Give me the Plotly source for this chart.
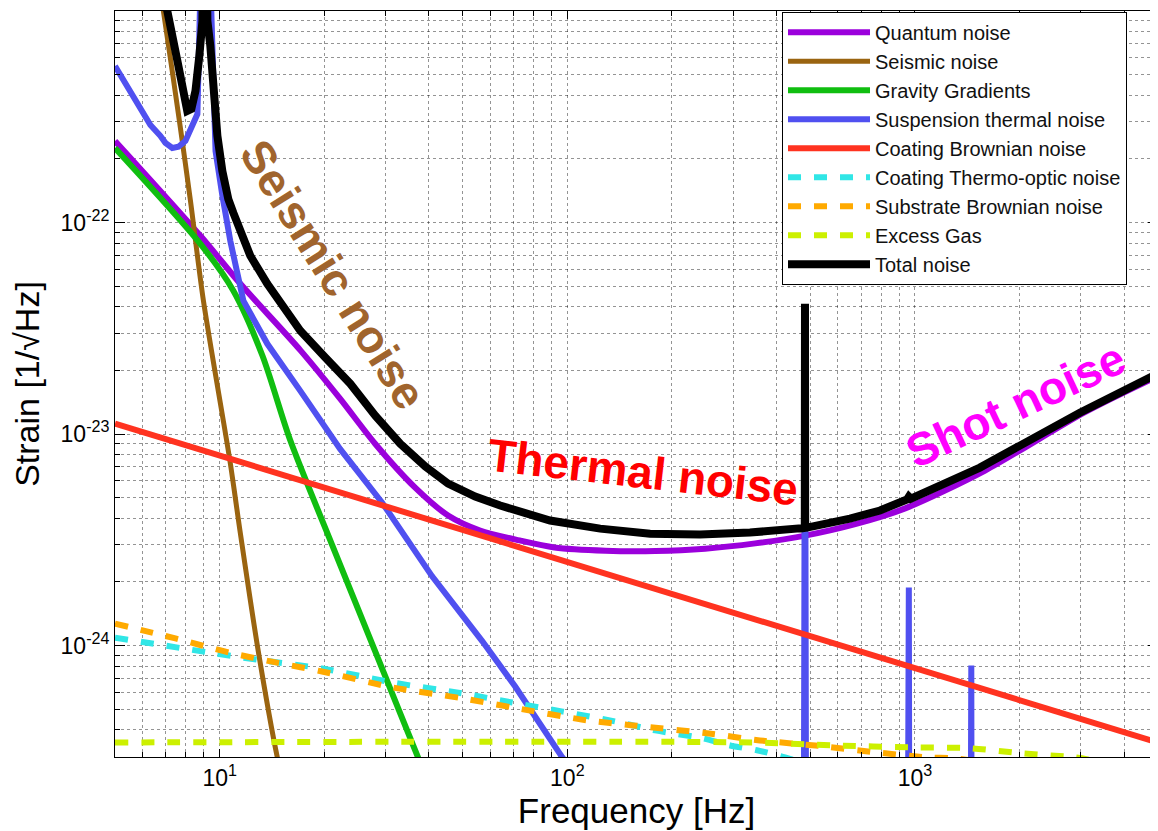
import plotly.graph_objects as go

FONT = "Liberation Sans, Arial, Helvetica, sans-serif"

# ---------------- data (frequency in Hz, strain in 1/sqrt(Hz)) ----------------
quantum_f = [5.0, 8.8, 11.47, 17.1, 22.2, 28.0, 36.5, 45.4, 56.1, 72.9, 91.8, 128.7, 179, 249, 347, 483, 673, 937, 1591, 3084, 5170]
quantum_h = [2.43e-22, 8.65e-23, 5.13e-23, 2.48e-23, 1.47e-23, 9.0e-24, 5.58e-24, 4.12e-24, 3.50e-24, 3.14e-24, 2.91e-24,
             2.81e-24, 2.80e-24, 2.87e-24, 3.04e-24, 3.31e-24, 3.75e-24, 4.45e-24, 6.72e-24, 1.27e-23, 1.93e-23]

seismic_f = [6.5, 6.89, 7.71, 8.24, 8.98, 10.7, 11.47, 12.9, 14.65, 15.5]
seismic_h = [1.8e-21, 1.0e-21, 2.80e-22, 1.27e-22, 4.27e-23, 7.5e-24, 3.39e-24, 9.5e-25, 2.96e-25, 2.0e-25]

gravity_f = [5.0, 8.8, 10.95, 13.27, 15.97, 21.1, 30.5, 37.2, 42.0]
gravity_h = [2.25e-22, 7.93e-23, 4.76e-23, 2.35e-23, 9.31e-24, 2.97e-24, 6.64e-25, 2.96e-25, 1.8e-25]

suspension_f = [5.0, 5.47, 5.92, 6.32, 6.75, 6.98, 7.31, 7.61, 7.97, 8.29, 8.63, 9.07, 9.73, 10.18, 10.73, 11.70,
                13.71, 17.06, 22.2, 29.3, 40.8, 56.9, 70.8, 96.6, 150, 300, 478, 482.6, 487, 950, 955, 960, 965,
                1440, 1447, 1452, 1457, 5000]
suspension_h = [5.50e-22, 4.28e-22, 3.37e-22, 2.89e-22, 2.57e-22, 2.38e-22, 2.25e-22, 2.28e-22, 2.43e-22, 2.77e-22,
                3.26e-22, 1.0e-20, 2.18e-22, 1.34e-22, 8.19e-23, 4.27e-23, 2.67e-23, 1.60e-23, 8.5e-24, 4.75e-24,
                2.13e-24, 1.05e-24, 6.4e-25, 2.97e-25, 1.2e-25, 4.0e-26, 2.5e-26, 4.0e-23, 2.5e-26, 1.5e-26,
                1.88e-24, 1.88e-24, 1.5e-26, 1.2e-26, 8.05e-25, 8.05e-25, 1.2e-26, 8.0e-27]

coating_brownian_f = [5.0, 5000.0]
coating_brownian_h = [1.12e-23, 3.48e-25]

thermo_optic_f = [5.0, 9.28, 13.3, 19.7, 31.4, 49.8, 69.4, 137, 179, 246, 294, 351, 423, 500]
thermo_optic_h = [1.09e-24, 9.28e-25, 8.50e-25, 7.79e-25, 6.69e-25, 5.94e-25, 5.38e-25, 4.38e-25, 3.97e-25, 3.64e-25,
                  3.37e-25, 3.20e-25, 2.96e-25, 2.7e-25]

substrate_f = [5.0, 7.46, 10.6, 14.5, 19.7, 31.4, 49.8, 69.4, 114, 155, 252, 358, 544, 767, 1082, 1286, 1600]
substrate_h = [1.27e-24, 1.08e-24, 9.28e-25, 8.32e-25, 7.54e-25, 6.34e-25, 5.63e-25, 5.10e-25, 4.43e-25, 4.19e-25,
               3.85e-25, 3.56e-25, 3.34e-25, 3.13e-25, 2.96e-25, 2.93e-25, 2.8e-25]

excess_gas_f = [5.0, 342, 581, 1013, 1439, 2044, 2884, 3300]
excess_gas_h = [3.48e-25, 3.48e-25, 3.37e-25, 3.30e-25, 3.27e-25, 3.09e-25, 2.96e-25, 2.85e-25]

total_f = [6.5, 7.07, 7.56, 7.86, 8.07, 8.29, 8.52, 8.74, 8.92, 9.07, 9.22, 9.40, 9.59, 9.85, 10.18, 10.59, 10.95,
           11.62, 12.25, 13.71, 15.25, 17.06, 20.13, 23.75, 28.03, 33.06, 39.02, 45.4, 54.33, 64.1, 89.2, 124.3,
           173.0, 240.8, 335.2, 476.1, 482.0, 482.6, 483.2, 489, 650, 793, 948, 960, 973, 1537, 2979, 4991]
total_h = [1.6e-21, 1.0e-21, 5.80e-22, 3.97e-22, 3.37e-22, 3.44e-22, 4.19e-22, 6.13e-22, 8.97e-22, 1.0e-20, 8.97e-22,
           6.84e-22, 3.97e-22, 2.57e-22, 1.75e-22, 1.29e-22, 1.11e-22, 8.47e-23, 6.96e-23, 5.13e-23, 4.04e-23,
           3.08e-23, 2.30e-23, 1.73e-23, 1.22e-23, 9.01e-24, 7.02e-24, 5.83e-24, 5.06e-24, 4.59e-24, 3.90e-24,
           3.57e-24, 3.38e-24, 3.35e-24, 3.42e-24, 3.57e-24, 3.6e-24, 4.13e-23, 3.6e-24, 3.61e-24, 3.98e-24,
           4.35e-24, 4.90e-24, 5.06e-24, 4.95e-24, 6.94e-24, 1.26e-23, 1.93e-23]

x_tick_vals = [10, 100, 1000]
x_tick_text = ["10<sup>1</sup>", "10<sup>2</sup>", "10<sup>3</sup>"]
y_tick_vals = [1e-24, 1e-23, 1e-22]
y_tick_text = ["10<sup>-24</sup>", "10<sup>-23</sup>", "10<sup>-22</sup>"]
x_minor = [m * 10 ** e for e in (0, 1, 2, 3) for m in range(2, 10) if 5 < m * 10 ** e < 5000]
y_minor = [m * 10.0 ** e for e in (-25, -24, -23, -22) for m in range(2, 10)]

# ---------------- figure ----------------
DASH = "13px,13px"
series = [
    ("Quantum noise", quantum_f, quantum_h, "#9B00DC", 6, "solid", "spline"),
    ("Seismic noise", seismic_f, seismic_h, "#9A6410", 5, "solid", "spline"),
    ("Gravity Gradients", gravity_f, gravity_h, "#10BE10", 6, "solid", "spline"),
    ("Suspension thermal noise", suspension_f, suspension_h, "#5050F0", 6, "solid", "linear"),
    ("Coating Brownian noise", coating_brownian_f, coating_brownian_h, "#FF3320", 6, "solid", "linear"),
    ("Coating Thermo-optic noise", thermo_optic_f, thermo_optic_h, "#30E6E6", 6, DASH, "spline"),
    ("Substrate Brownian noise", substrate_f, substrate_h, "#FFAA00", 6, DASH, "spline"),
    ("Excess Gas", excess_gas_f, excess_gas_h, "#CCF000", 6, DASH, "spline"),
    ("Total noise", total_f, total_h, "#000000", 8, "solid", "linear"),
]

fig = go.Figure()
for name, fx, hy, color, width, dash, shape in series:
    line = dict(color=color, width=width, dash=dash, shape=shape)
    if shape == "spline":
        line["smoothing"] = 0.8
    fig.add_trace(go.Scatter(x=fx, y=hy, mode="lines", name=name, line=line))

grid = dict(gridcolor="rgba(0,0,0,0.42)", griddash="dot", gridwidth=1)
fig.update_xaxes(type="log", range=[0.69897, 3.69897], tickvals=x_tick_vals, ticktext=x_tick_text,
                 ticks="inside", ticklen=8, tickcolor="black", showline=True, linecolor="black",
                 linewidth=1, mirror="allticks", showgrid=True, zeroline=False,
                 tickfont=dict(size=23, family=FONT, color="black"),
                 minor=dict(tickvals=x_minor, ticks="inside", ticklen=5, tickcolor="black", showgrid=True, **grid),
                 title=dict(text="Frequency [Hz]", font=dict(size=35, family=FONT, color="black"), standoff=4),
                 automargin=False, **grid)
fig.update_yaxes(type="log", range=[-24.527, -21.0], tickvals=y_tick_vals, ticktext=y_tick_text,
                 ticks="inside", ticklen=10, tickcolor="black", showline=True, linecolor="black",
                 linewidth=1, mirror="allticks", showgrid=True, zeroline=False,
                 tickfont=dict(size=23, family=FONT, color="black"),
                 minor=dict(tickvals=y_minor, ticks="inside", ticklen=5, tickcolor="black", showgrid=True, **grid),
                 title=dict(text="Strain [1/√Hz]", font=dict(size=34, family=FONT, color="black"), standoff=14),
                 automargin=False, **grid)

# the page adds an 8px body margin, so the figure is 8px smaller and margins 8px tighter
fig.update_layout(
    width=1150, height=823,
    margin=dict(l=107, r=0, t=3, b=74),
    paper_bgcolor="white", plot_bgcolor="white",
    font=dict(family=FONT, color="black"),
    legend=dict(x=(782 - 115) / 1043, y=0.999, xanchor="left", yanchor="top", bgcolor="white",
                bordercolor="black", borderwidth=1, font=dict(size=20, family=FONT, color="#111"),
                itemwidth=82, tracegroupgap=0, entrywidth=290, entrywidthmode="pixels"),
    annotations=[
        dict(text="<b>Seismic noise</b>", x=(333 - 115) / 1043, y=(757 - 274) / 746, xref="paper", yref="paper",
             xanchor="center", yanchor="middle",
             showarrow=False, textangle=58, font=dict(size=46, family=FONT, color="#A0642D")),
        dict(text="<b>Thermal noise</b>", x=(643 - 115) / 1043, y=(757 - 472) / 746, xref="paper", yref="paper",
             xanchor="center", yanchor="middle",
             showarrow=False, textangle=6.5, font=dict(size=46, family=FONT, color="#FF0000")),
        dict(text="<b>Shot noise</b>", x=(1015 - 115) / 1043, y=(757 - 405) / 746, xref="paper", yref="paper",
             xanchor="center", yanchor="middle",
             showarrow=False, textangle=-25, font=dict(size=46, family=FONT, color="#FF00FF")),
    ],
)

fig.write_html("out.html")
